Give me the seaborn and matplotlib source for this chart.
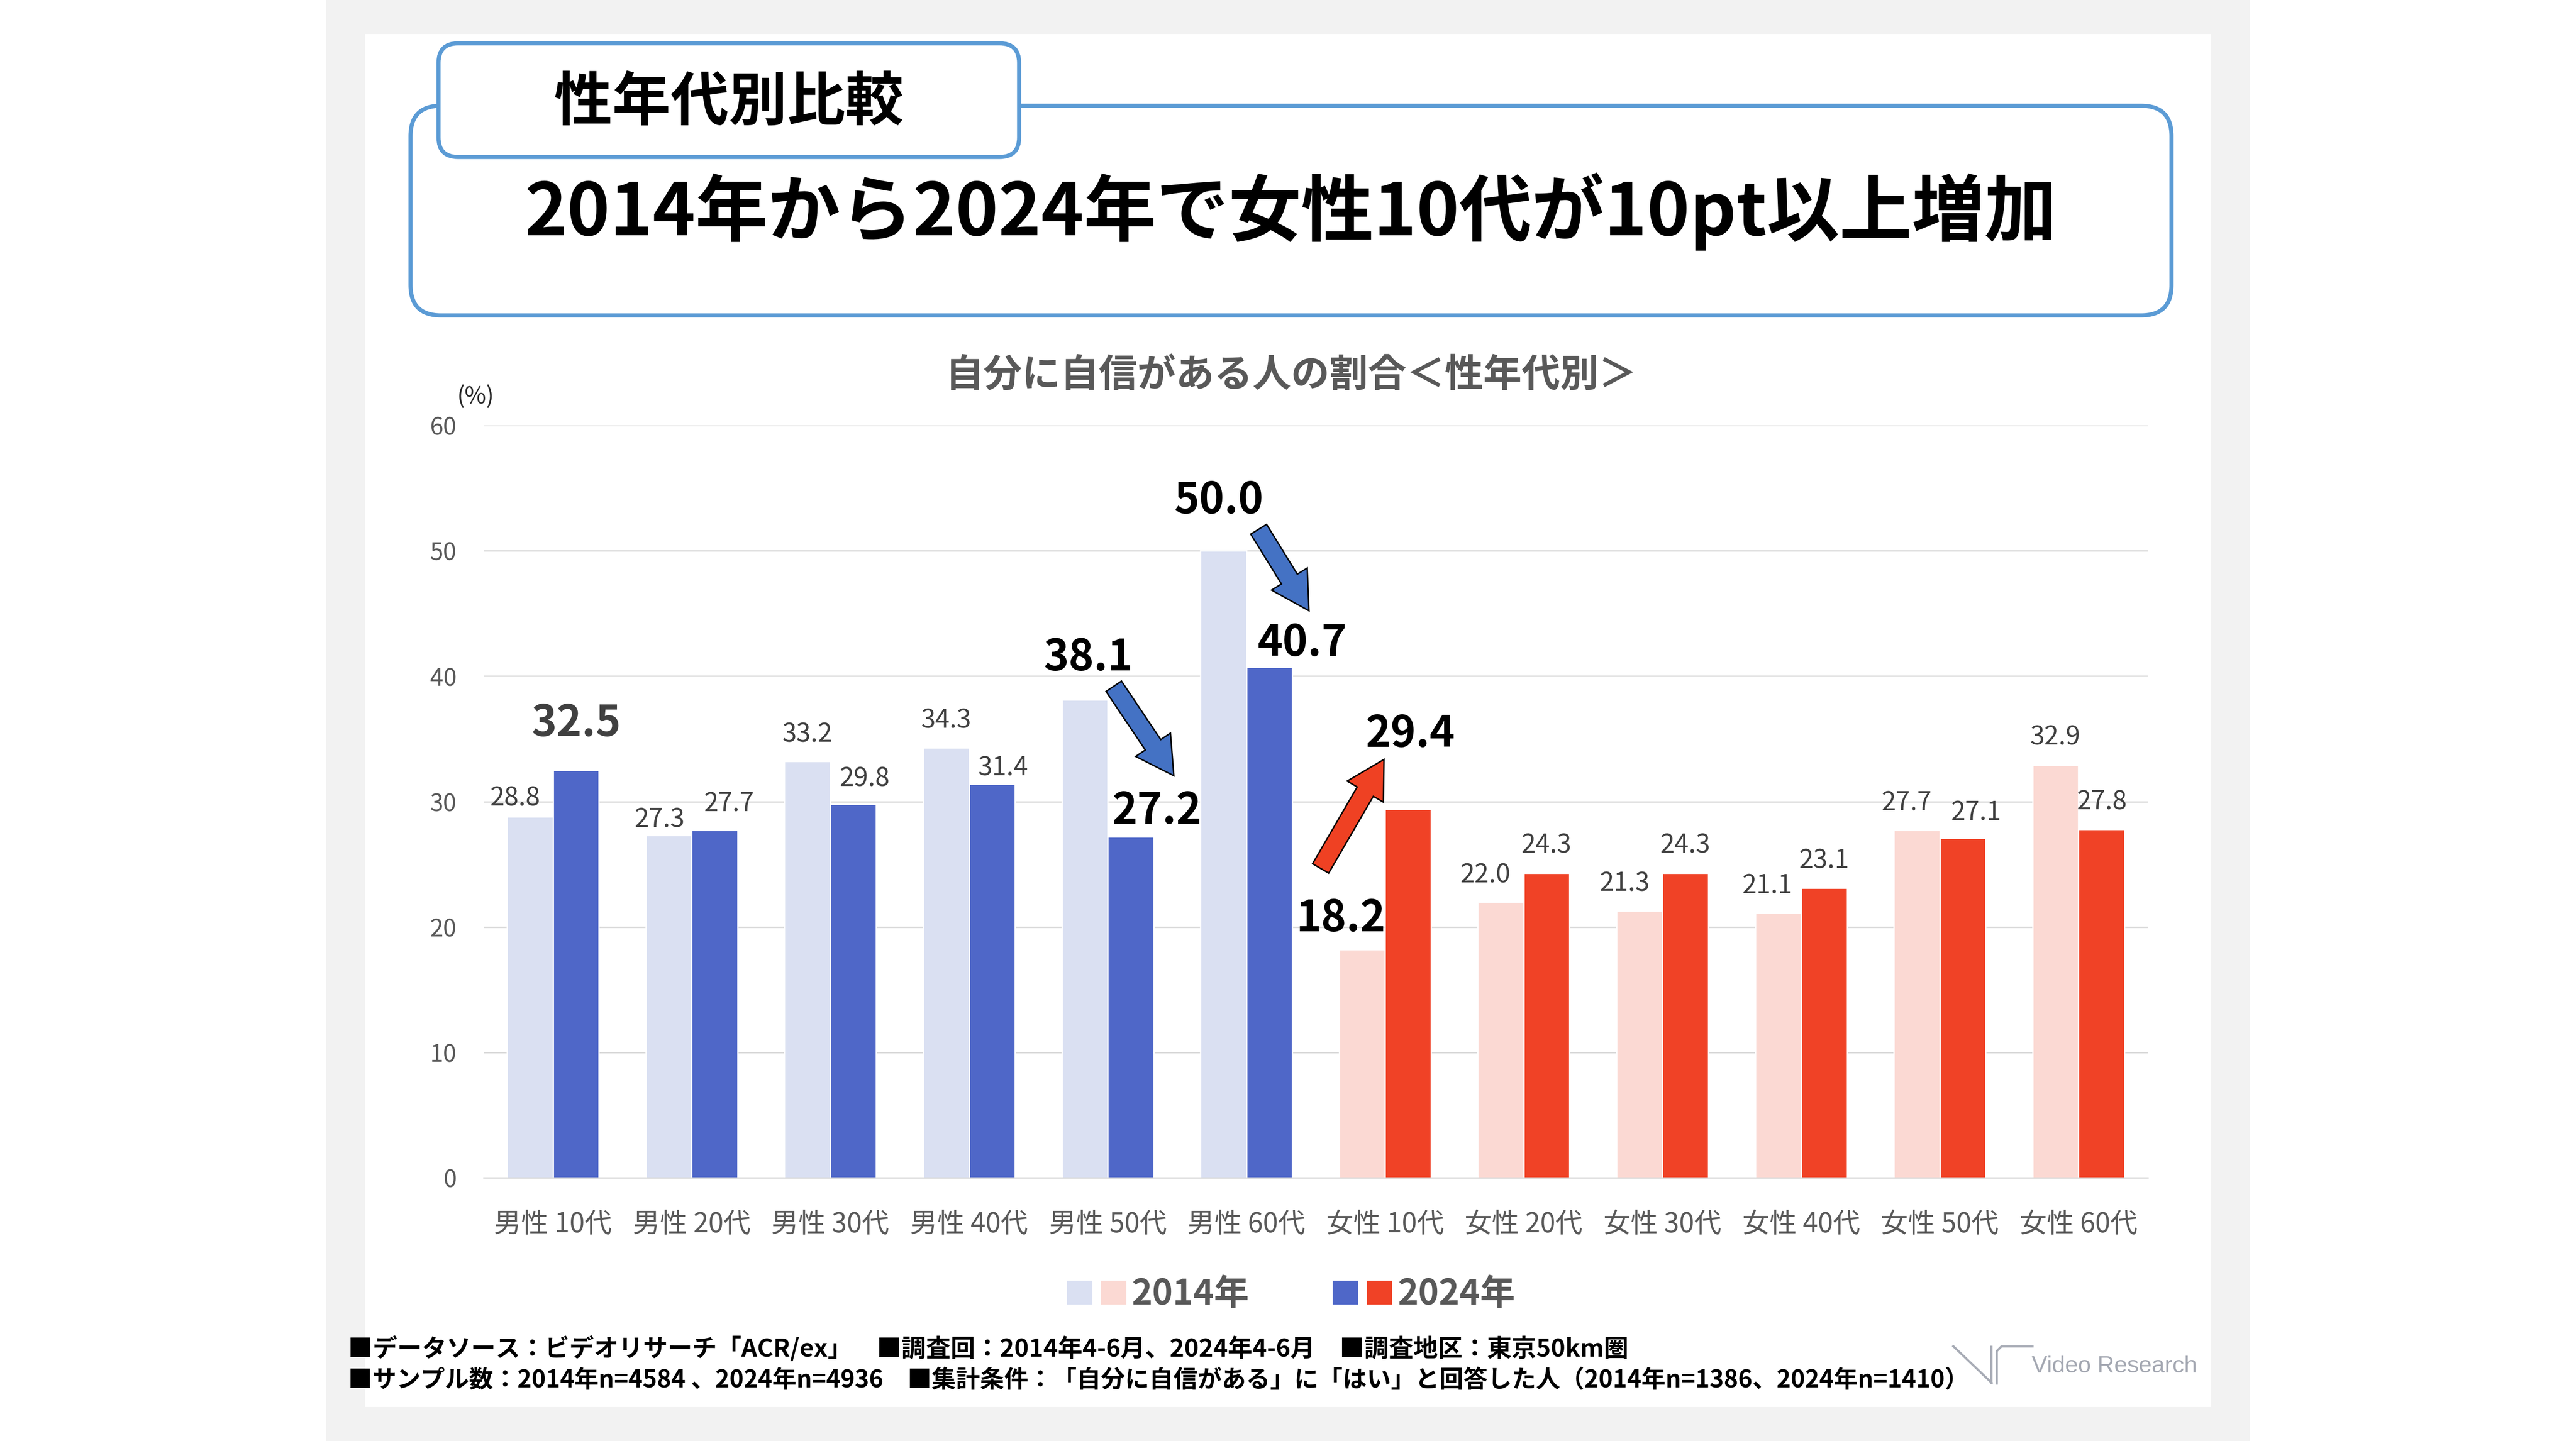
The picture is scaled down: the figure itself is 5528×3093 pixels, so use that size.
import pandas as pd
import matplotlib.pyplot as plt
import seaborn as sns
from matplotlib.patches import Rectangle, FancyBboxPatch, FancyArrow, Patch
from matplotlib.legend_handler import HandlerTuple

# data
categories = ["男性 10代", "男性 20代", "男性 30代", "男性 40代", "男性 50代", "男性 60代",
              "女性 10代", "女性 20代", "女性 30代", "女性 40代", "女性 50代", "女性 60代"]
years = ["2014年", "2024年"]
values_2014 = [28.8, 27.3, 33.2, 34.3, 38.1, 50.0, 18.2, 22.0, 21.3, 21.1, 27.7, 32.9]
values_2024 = [32.5, 27.7, 29.8, 31.4, 27.2, 40.7, 29.4, 24.3, 24.3, 23.1, 27.1, 27.8]

tab_text = "性年代別比較"
headline = "2014年から2024年で女性10代が10pt以上増加"
chart_title = "自分に自信がある人の割合＜性年代別＞"
notes = ["■データソース：ビデオリサーチ「ACR/ex」　■調査回：2014年4-6月、2024年4-6月　■調査地区：東京50km圏",
         "■サンプル数：2014年n=4584 、2024年n=4936　■集計条件：「自分に自信がある」に「はい」と回答した人（2014年n=1386、2024年n=1410）"]

# colours: (2014, 2024) for men and women
men_colors = ["#DAE0F2", "#4F67C8"]
women_colors = ["#FBD9D3", "#F04226"]
GREY = "#595959"

# label tweaks (px offsets from bar top) and emphasised labels
offsets = [
    [(-32, 39), (-19, 33), (0, 58), (0, 58), (8, 90), (-10, 107),
     (-46, 66), (-33, 57), (-32, 58), (-23, 58), (-22, 59), (-1, 60)],
    [(1, 100), (31, 57), (24, 54), (24, 34), (56, 55), (70, 51),
     (5, 161), (0, 59), (0, 59), (0, 58), (29, 54), (1, 58)],
]
big = {(0, 4): "black", (0, 5): "black", (0, 6): "black",
       (1, 0): "#404040", (1, 4): "black", (1, 5): "black", (1, 6): "black"}

W, H, DPI = 5528, 3093, 200
PT = 72 / DPI

sns.set_theme(style="white")
plt.rcParams["font.family"] = ["Noto Sans CJK JP", "DejaVu Sans"]

fig = plt.figure(figsize=(W / DPI, H / DPI), dpi=DPI)
fig.patch.set_facecolor("white")

# background layer in pixel coords
bg = fig.add_axes([0, 0, 1, 1], zorder=0)
bg.set_xlim(0, W)
bg.set_ylim(H, 0)
bg.axis("off")
bg.add_patch(Rectangle((700, 0), 4128, H, fc="#F2F2F2", ec="none"))
bg.add_patch(Rectangle((783, 73), 3961, 2947, fc="white", ec="none"))
bg.add_patch(FancyBboxPatch((881, 227), 3779, 450, boxstyle="round,pad=0,rounding_size=65",
                            fc="white", ec="#5B9BD5", lw=3.2))
bg.add_patch(FancyBboxPatch((941, 93), 1246, 244, boxstyle="round,pad=0,rounding_size=42",
                            fc="white", ec="#5B9BD5", lw=3.2))
bg.text(1564, 222, tab_text, ha="center", va="center", fontsize=45, weight="bold", color="black")
bg.text(2770, 454, headline, ha="center", va="center", fontsize=56, weight="bold", color="black")
bg.text(2771, 806, chart_title, ha="center", va="center", fontsize=29.7, weight="bold", color=GREY)
bg.text(1020, 851, "(%)", ha="center", va="center", fontsize=18, color="#262626")
for i, (line, fs) in enumerate(zip(notes, [19, 18.7])):
    bg.text(747, 2896 + 67 * i, line, ha="left", va="center", fontsize=fs, weight="bold", color="black")

# logo
logo_c = "#A7ABB5"
bg.plot([4190, 4276], [2888, 2970], color=logo_c, lw=1.7, solid_capstyle="butt")
bg.plot([4273, 4273], [2888, 2970], color=logo_c, lw=1.7, solid_capstyle="butt")
bg.plot([4285, 4285, 4295, 4364], [2972, 2900, 2890, 2890], color=logo_c, lw=1.7, solid_capstyle="butt")
bg.text(4360, 2933, "Video Research", ha="left", va="center", fontsize=18,
        family=["Liberation Sans", "DejaVu Sans"], color="#A3A7B1")

# chart
df = pd.DataFrame({
    "cat": categories * 2,
    "year": [years[0]] * len(categories) + [years[1]] * len(categories),
    "value": values_2014 + values_2024,
})
ax = fig.add_axes([1038 / W, 1 - 2528 / H, (4609 - 1038) / W, (2528 - 913) / H], zorder=1)
ax.patch.set_alpha(0)
sns.barplot(data=df, x="cat", y="value", hue="year", palette=men_colors, width=0.662, gap=0,
            errorbar=None, saturation=1, legend=False, ax=ax)

for yi, cont in enumerate(ax.containers):
    for ci, bar in enumerate(cont):
        if categories[ci].startswith("女"):
            bar.set_facecolor(women_colors[yi])
        val = bar.get_height()
        dx, dy = offsets[yi][ci]
        if (yi, ci) in big:
            kw = dict(fontsize=33, weight="bold", color=big[(yi, ci)])
        else:
            kw = dict(fontsize=20, color="#404040")
        ax.annotate(f"{val:.1f}", (bar.get_x() + bar.get_width() / 2, val),
                    xytext=(dx * PT, dy * PT), textcoords="offset points",
                    ha="center", va="center", **kw)

ax.set_ylim(0, 60)
ax.set_yticks(range(0, 61, 10))
ax.set_xlabel("")
ax.set_ylabel("")
ax.grid(axis="y", color="#D9D9D9", lw=1.1)
ax.grid(axis="x", visible=False)
ax.set_axisbelow(True)
for s in ["top", "right", "left"]:
    ax.spines[s].set_visible(False)
ax.spines["bottom"].set_color("#D9D9D9")
ax.spines["bottom"].set_linewidth(1.1)
ax.tick_params(axis="x", length=0, pad=25, labelsize=21, labelcolor=GREY)
ax.tick_params(axis="y", length=0, pad=21, labelsize=18.5, labelcolor=GREY)

# arrows on top
top = fig.add_axes([0, 0, 1, 1], zorder=2)
top.set_xlim(0, W)
top.set_ylim(H, 0)
top.axis("off")
for (x0, y0, x1, y1, col) in [(2390, 1473, 2519, 1665, "#4472C4"),
                              (2701, 1136, 2809, 1311, "#4472C4"),
                              (2834, 1864, 2970, 1630, "#EF4123")]:
    top.add_patch(FancyArrow(x0, y0, x1 - x0, y1 - y0, width=40, head_width=90, head_length=80,
                             length_includes_head=True, fc=col, ec="black", lw=1.1))

# legend
h14 = (Patch(fc=men_colors[0]), Patch(fc=women_colors[0]))
h24 = (Patch(fc=men_colors[1]), Patch(fc=women_colors[1]))
fig.legend([h14, h24], years, handler_map={tuple: HandlerTuple(ndivide=None, pad=0.21)},
           loc="center", bbox_to_anchor=(0.501, 0.1018), ncol=2, frameon=False,
           prop={"weight": "bold", "size": 27}, labelcolor=GREY, handlelength=1.73,
           handleheight=0.73, handletextpad=0.15, columnspacing=2.36, borderpad=0)

fig.savefig("out.png", dpi=DPI)
